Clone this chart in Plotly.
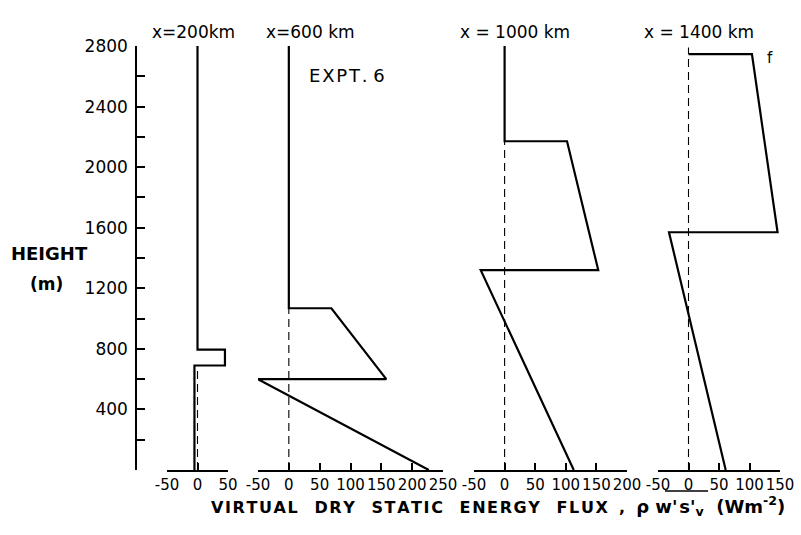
import plotly.graph_objects as go

# ---- data ----
panel_titles = ["x=200km", "x=600 km", "x = 1000 km", "x = 1400 km"]

p1_flux = [-5, -5, 45, 45, 0, 0]
p1_height = [0, 690, 690, 795, 795, 2800]

p2_flux = [227, -50, 158, 69, 0, 0]
p2_height = [0, 600, 600, 1068, 1068, 2800]

p3_flux = [113, -39, 153, 102, 0, 0]
p3_height = [0, 1320, 1320, 2171, 2171, 2800]

p4_flux = [61, -32, 146, 104, 0]
p4_height = [0, 1570, 1570, 2746, 2746]

zero_line_top = [690, 1068, 2171, 2790]

x_ranges = [[-50, 50], [-50, 250], [-50, 200], [-50, 150]]
height_ticks = [0, 200, 400, 600, 800, 1000, 1200, 1400, 1600, 1800, 2000, 2200, 2400, 2600, 2800]
height_labels = ["", "", "400", "", "800", "", "1200", "", "1600", "", "2000", "", "2400", "", "2800"]

# ---- layout geometry (pixels of an 801x535 canvas) ----
W, H = 801, 535
px_x = lambda p: p / W
px_y = lambda p: (H - p) / H
domains = [[167, 228], [258, 443], [474, 627], [658, 780]]

FONT = "DejaVu Sans"
HS = "\u200a"  # hair space for letter spacing
spaced = lambda w: HS.join(w)

fig = go.Figure()

profiles = [(p1_flux, p1_height), (p2_flux, p2_height), (p3_flux, p3_height), (p4_flux, p4_height)]
for i, (fx, hy) in enumerate(profiles):
    xa = "x" if i == 0 else f"x{i+1}"
    fig.add_trace(go.Scatter(x=[0, 0], y=[0, zero_line_top[i]], mode="lines",
                             line=dict(color="black", width=1.1, dash="8px,5px"),
                             xaxis=xa, yaxis="y", showlegend=False, hoverinfo="skip"))
    fig.add_trace(go.Scatter(x=fx, y=hy, mode="lines",
                             line=dict(color="black", width=2.2),
                             xaxis=xa, yaxis="y", showlegend=False))

layout = dict(
    width=W, height=H,
    margin=dict(l=0, r=0, t=0, b=0, autoexpand=False),
    paper_bgcolor="white", plot_bgcolor="white",
    font=dict(family=FONT, color="black"),
    yaxis=dict(domain=[px_y(470), px_y(46)], range=[0, 2800], anchor="free",
               position=px_x(136), showline=True, linecolor="black", linewidth=1.5,
               ticks="inside", ticklen=8, tickwidth=1.5, tickcolor="black",
               tickvals=height_ticks, ticktext=height_labels, automargin=False,
               tickfont=dict(size=17, family=FONT), showgrid=False, zeroline=False,
               ticklabelstandoff=4),
)
for i, (d, r) in enumerate(zip(domains, x_ranges)):
    key = "xaxis" if i == 0 else f"xaxis{i+1}"
    tv = list(range(r[0], r[1] + 1, 50))
    layout[key] = dict(domain=[px_x(d[0]), px_x(d[1])], range=r, anchor="y",
                       showline=True, linecolor="black", linewidth=1.5,
                       ticks="inside", ticklen=7, tickwidth=1.5, tickcolor="black",
                       tickvals=tv, ticktext=[str(v) for v in tv], tickangle=0,
                       automargin=False,
                       tickfont=dict(size=15, family=FONT), showgrid=False, zeroline=False,
                       ticklabelstandoff=0)
fig.update_layout(**layout)


def note(text, x, y, size, **kw):
    return dict(text=text, x=px_x(x), y=px_y(y), xref="paper", yref="paper",
                xanchor="center", yanchor="middle", showarrow=False,
                font=dict(size=size, family=FONT), **kw)


ann = []
title_x = [193, 310, 515, 699]
for t, x in zip(panel_titles, title_x):
    ann.append(note(t, x, 32, 17))
ann.append(note(spaced("EXPT.") + " " + "6", 347, 75, 18))
ann.append(note("<b>HEIGHT</b>", 49, 253, 18))
ann.append(note("<b>(m)</b>", 46, 284, 17))
ann.append(note("f", 770, 58, 15))
gap = "   "
xtitle = gap.join(spaced(w) for w in ["VIRTUAL", "DRY", "STATIC", "ENERGY", "FLUX"])
xtitle = ("<b>" + xtitle + "  ,  <span style='font-size:18px'>ρ " + "w'" + HS
          + "s'<sub>v</sub>  (Wm<sup>-2</sup>)</span></b>")
ann.append(note(xtitle, 498, 506, 16))
fig.update_layout(annotations=ann)

fig.add_shape(type="line", xref="paper", yref="paper",
              x0=px_x(665), x1=px_x(708), y0=px_y(491), y1=px_y(491),
              line=dict(color="black", width=1.5))

fig.write_html("out.html")
